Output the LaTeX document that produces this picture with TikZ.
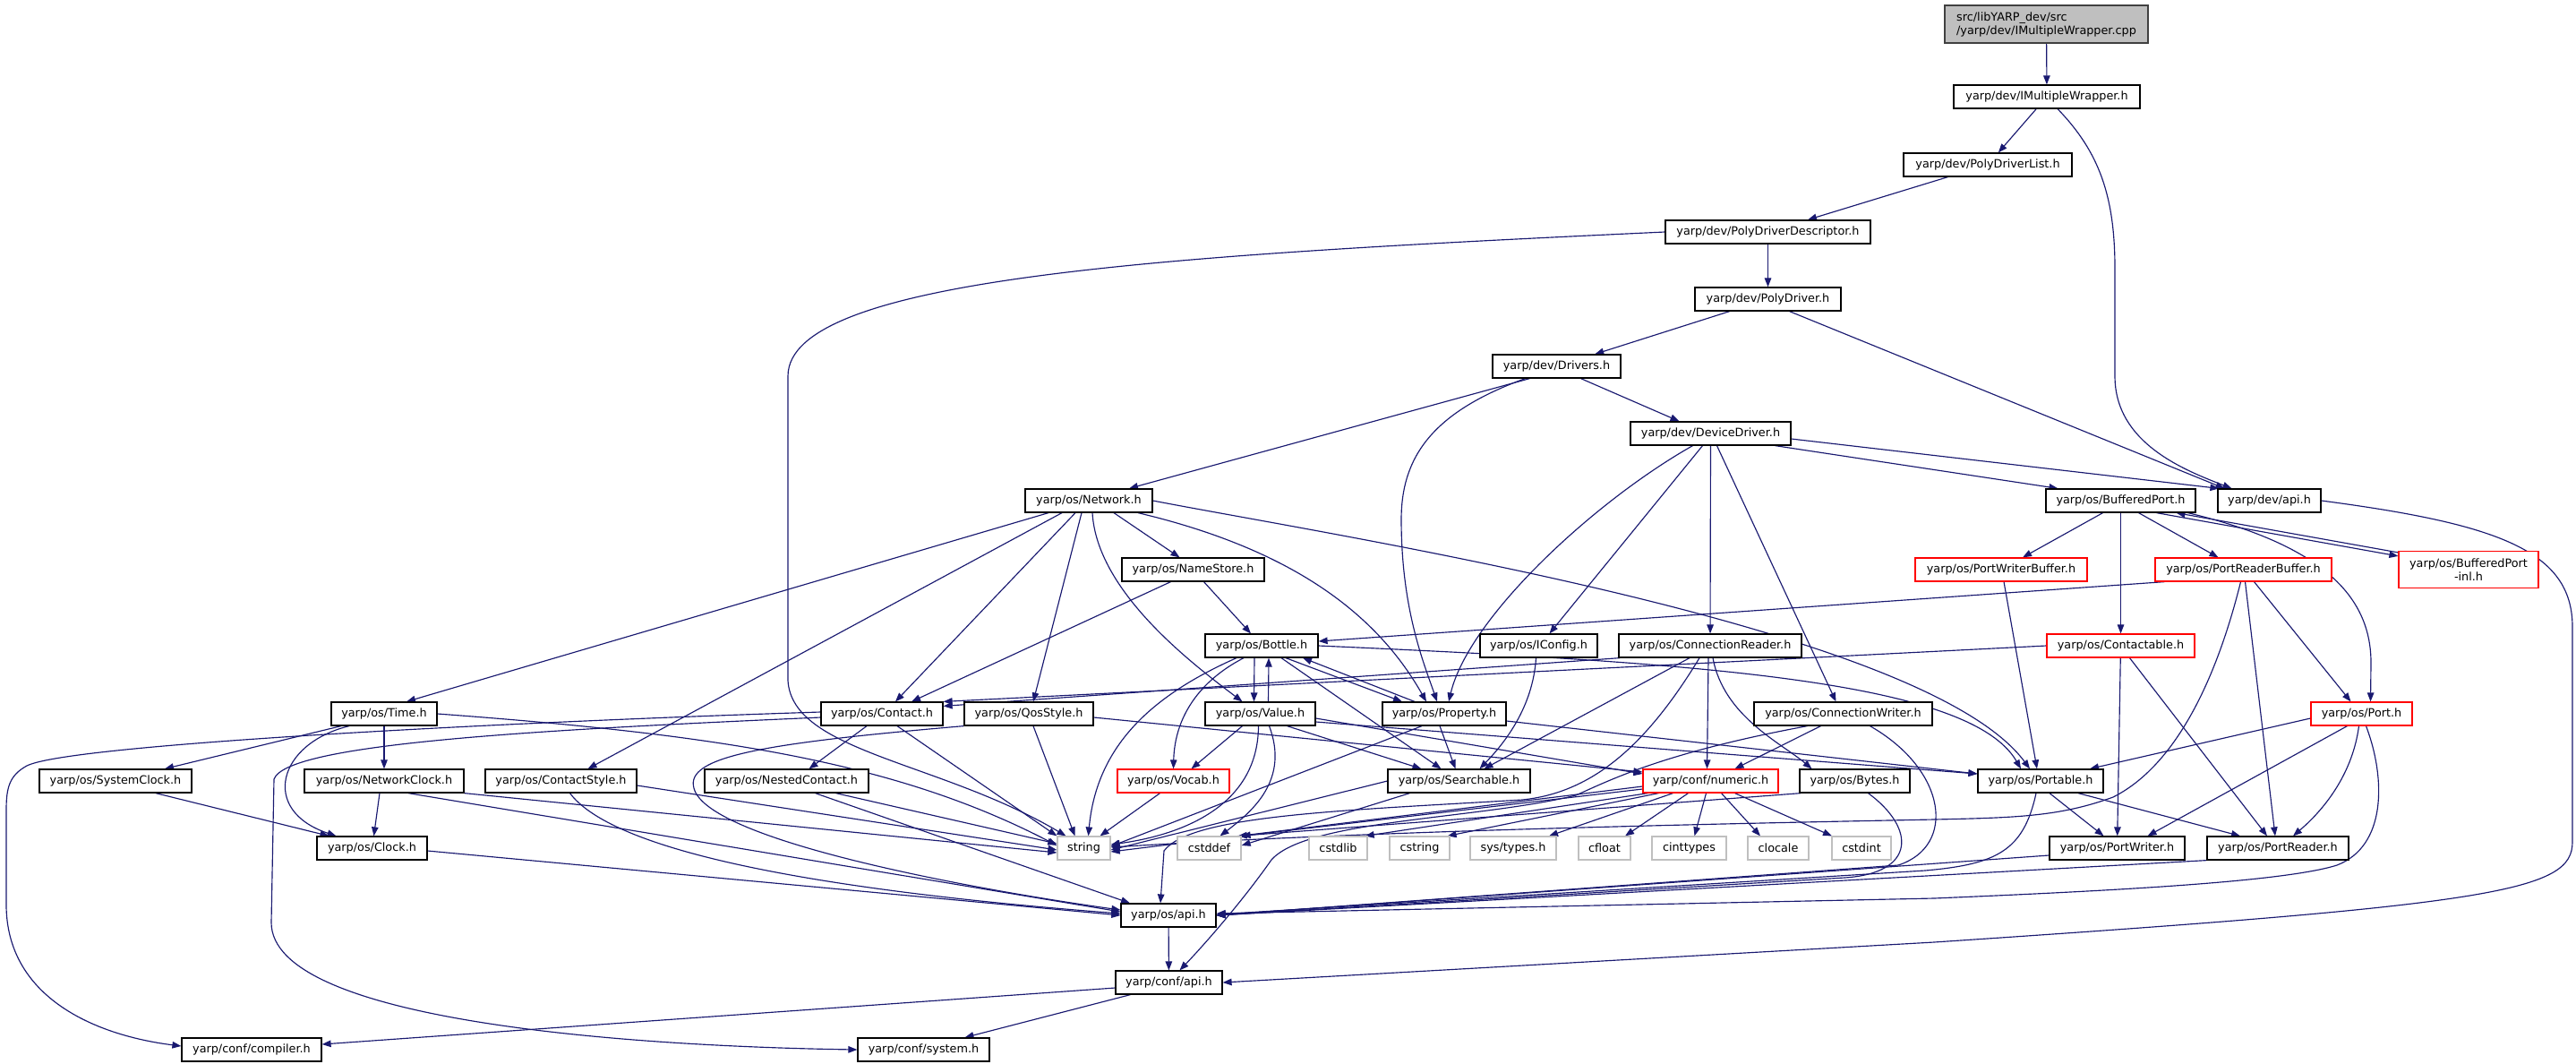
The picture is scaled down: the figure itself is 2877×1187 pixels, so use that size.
\documentclass[tikz,border=0pt]{standalone}
\usepackage{fontspec}
\newfontfamily\dvs{DejaVu Sans}
\usetikzlibrary{arrows.meta,backgrounds}
\definecolor{edgec}{HTML}{191970}
\definecolor{sysc}{HTML}{BFBFBF}
\definecolor{rootc}{HTML}{BFBFBF}
\definecolor{bordc}{HTML}{404040}
\begin{document}
\begin{tikzpicture}[x=1pt,y=-1pt,
  hbox/.style={draw=black, line width=1.2pt, fill=white, inner sep=0pt, minimum height=26pt, font=\dvs\fontsize{12.8}{15}\selectfont},
  rbox/.style={hbox, draw=red},
  sbox/.style={hbox, draw=sysc},
  edg/.style={draw=edgec, line width=1.15pt, -{Triangle[length=10pt,width=7.5pt]}}]
\path[use as bounding box] (0,0) rectangle (2877,1187);
% nodes
\node[hbox, minimum width=227pt, minimum height=42pt, fill=rootc, draw=bordc, align=left] (root) at (2285.5,27) {src/libYARP\_dev/src\\/yarp/dev/IMultipleWrapper.cpp};
\node[hbox,minimum width=208pt] (imw) at (2286,108) {yarp/dev/IMultipleWrapper.h};
\node[hbox,minimum width=188pt] (pdl) at (2220,184) {yarp/dev/PolyDriverList.h};
\node[hbox,minimum width=229pt] (pdd) at (1974.5,259) {yarp/dev/PolyDriverDescriptor.h};
\node[hbox,minimum width=163pt] (pd) at (1974.5,334) {yarp/dev/PolyDriver.h};
\node[hbox,minimum width=143pt] (drv) at (1738.5,409) {yarp/dev/Drivers.h};
\node[hbox,minimum width=179pt] (dd) at (1910.5,484) {yarp/dev/DeviceDriver.h};
\node[hbox,minimum width=142pt] (net) at (1216,559) {yarp/os/Network.h};
\node[hbox,minimum width=167pt] (bp) at (2368.5,559) {yarp/os/BufferedPort.h};
\node[hbox,minimum width=115pt] (devapi) at (2534.5,559) {yarp/dev/api.h};
\node[hbox,minimum width=159pt] (ns) at (1332.5,636) {yarp/os/NameStore.h};
\node[rbox,minimum width=192pt] (pwb) at (2235,636) {yarp/os/PortWriterBuffer.h};
\node[rbox,minimum width=197pt] (prb) at (2505.5,636) {yarp/os/PortReaderBuffer.h};
\node[rbox,minimum width=156pt,minimum height=41pt,align=center] (inl) at (2757,636) {yarp/os/BufferedPort\\-inl.h};
\node[hbox,minimum width=126pt] (bottle) at (1409,721) {yarp/os/Bottle.h};
\node[hbox,minimum width=131pt] (icfg) at (1718.5,721) {yarp/os/IConfig.h};
\node[hbox,minimum width=204pt] (cr) at (1910,721) {yarp/os/ConnectionReader.h};
\node[rbox,minimum width=165pt] (ctb) at (2368.5,721) {yarp/os/Contactable.h};
\node[hbox,minimum width=118pt] (time) at (429,797) {yarp/os/Time.h};
\node[hbox,minimum width=136pt] (contact) at (985,797) {yarp/os/Contact.h};
\node[hbox,minimum width=144pt] (qos) at (1149,797) {yarp/os/QosStyle.h};
\node[hbox,minimum width=123pt] (value) at (1407.5,797) {yarp/os/Value.h};
\node[hbox,minimum width=138pt] (prop) at (1613,797) {yarp/os/Property.h};
\node[hbox,minimum width=199pt] (cw) at (2058.5,797) {yarp/os/ConnectionWriter.h};
\node[rbox,minimum width=113pt] (port) at (2637.5,797) {yarp/os/Port.h};
\node[hbox,minimum width=170pt] (sysclk) at (129,872) {yarp/os/SystemClock.h};
\node[hbox,minimum width=178pt] (netclk) at (429,872) {yarp/os/NetworkClock.h};
\node[hbox,minimum width=169pt] (cstyle) at (626.5,872) {yarp/os/ContactStyle.h};
\node[hbox,minimum width=183pt] (nested) at (878.5,872) {yarp/os/NestedContact.h};
\node[rbox,minimum width=125pt] (vocab) at (1310.5,872) {yarp/os/Vocab.h};
\node[hbox,minimum width=159pt] (search) at (1629.5,872) {yarp/os/Searchable.h};
\node[rbox,minimum width=151pt] (numeric) at (1910.5,872) {yarp/conf/numeric.h};
\node[hbox,minimum width=123pt] (bytes) at (2071.5,872) {yarp/os/Bytes.h};
\node[hbox,minimum width=140pt] (portable) at (2279,872) {yarp/os/Portable.h};
\node[hbox,minimum width=123pt] (clock) at (415.5,947) {yarp/os/Clock.h};
\node[sbox,minimum width=59pt] (string) at (1210.5,947) {string};
\node[sbox,minimum width=71pt] (cstddef) at (1350.5,947) {cstddef};
\node[sbox,minimum width=65pt] (cstdlib) at (1494.5,947) {cstdlib};
\node[sbox,minimum width=67pt] (cstring) at (1585.5,947) {cstring};
\node[sbox,minimum width=96pt] (systypes) at (1690,947) {sys/types.h};
\node[sbox,minimum width=58pt] (cfloat) at (1792,947) {cfloat};
\node[sbox,minimum width=83pt] (cinttypes) at (1886.5,947) {cinttypes};
\node[sbox,minimum width=68pt] (clocale) at (1986,947) {clocale};
\node[sbox,minimum width=66pt] (cstdint) at (2079,947) {cstdint};
\node[hbox,minimum width=151pt] (pw) at (2364.5,947) {yarp/os/PortWriter.h};
\node[hbox,minimum width=158pt] (pr) at (2544,947) {yarp/os/PortReader.h};
\node[hbox,minimum width=106pt] (osapi) at (1305,1022) {yarp/os/api.h};
\node[hbox,minimum width=119pt] (confapi) at (1305.5,1097) {yarp/conf/api.h};
\node[hbox,minimum width=156pt] (compiler) at (281,1172) {yarp/conf/compiler.h};
\node[hbox,minimum width=147pt] (system) at (1031.5,1172) {yarp/conf/system.h};
% edges
\begin{pgfonlayer}{background}
\draw[edg] (root) -- (imw);
\draw[edg] (imw) -- (pdl);
\draw[edg] ([xshift=12pt]imw.south) .. controls (2345,170) and (2362,220) .. (2362,300) -- (2362,420) .. controls (2362,495) and (2440,525) .. ([xshift=-42pt]devapi.north);
\draw[edg] (pdl) -- (pdd);
\draw[edg] (pdd) -- (pd);
\draw[edg] (pdd.west) .. controls (1300,285) and (880,310) .. (880,420) -- (880,760) .. controls (885,840) and (1050,850) .. ([xshift=-20pt]string.north);
\draw[edg] (pd) -- (drv);
\draw[edg] ([xshift=24pt]pd.south) -- ([xshift=-50pt]devapi.north);
\draw[edg] ([xshift=-30pt]drv.south) -- ([xshift=45pt]net.north);
\draw[edg] ([xshift=-35pt]drv.south) .. controls (1600,460) and (1565,510) .. (1565,580) .. controls (1565,680) and (1590,740) .. ([xshift=-8pt]prop.north);
\draw[edg] ([xshift=27pt]drv.south) -- ([xshift=-35pt]dd.north);
\draw[edg] ([yshift=-6pt]dd.east) -- ([xshift=2pt]devapi.north west);
\draw[edg] ([xshift=72pt]dd.south) -- ([xshift=-70pt]bp.north);
\draw[edg] ([xshift=-20pt]dd.south) .. controls (1780,560) and (1640,690) .. ([xshift=5pt]prop.north);
\draw[edg] ([xshift=-9pt]dd.south) -- ([xshift=12pt]icfg.north);
\draw[edg] (dd) -- (cr);
\draw[edg] ([xshift=7pt]dd.south) -- ([xshift=-8pt]cw.north);
% BufferedPort
\draw[edg] ([xshift=-20pt]bp.south) -- ([xshift=24pt]pwb.north);
\draw[edg] (bp) -- (ctb);
\draw[edg] ([xshift=20pt]bp.south) -- ([xshift=-28pt]prb.north);
\draw[edg] ([xshift=40pt]bp.south) -- ([yshift=-6pt]inl.north west);
\draw[edg] ([yshift=-2pt]inl.north west) -- ([xshift=62pt]bp.south);
\draw[edg] ([xshift=75pt]bp.south) .. controls (2600,610) and (2648,670) .. (2648,740) -- ([xshift=10pt]port.north);
\draw[edg] (devapi.east) .. controls (2790,585) and (2873,615) .. (2873,700) -- (2873,940) .. controls (2873,995) and (2790,1010) .. (2160,1052) -- (confapi.east);
% NameStore, buffers
\draw[edg] ([xshift=-25pt]ns.south) -- ([xshift=33pt]contact.north);
\draw[edg] ([xshift=12pt]ns.south) -- ([xshift=-12pt]bottle.north);
\draw[edg] ([xshift=3pt]pwb.south) -- ([xshift=-4pt]portable.north);
\draw[edg] ([xshift=-88pt]prb.south) -- ([yshift=5pt]bottle.east);
\draw[edg] ([xshift=-3pt]prb.south) .. controls (2470,780) and (2420,860) .. (2360,890) .. controls (2300,912) and (2250,913) .. (2160,915) .. controls (1800,922) and (1500,930) .. ([yshift=1pt]string.east);
\draw[edg] ([xshift=2pt]prb.south) -- ([xshift=-3pt]pr.north);
\draw[edg] ([xshift=12pt]prb.south) -- ([xshift=-12pt]port.north);
% Contactable
\draw[edg] (ctb.west) -- (contact.north east);
\draw[edg] ([xshift=2pt]cr.south west) -- ([yshift=-5pt]contact.north east);
\draw[edg] (ctb) -- (pw);
\draw[edg] ([xshift=10pt]ctb.south) -- ([xshift=-12pt]pr.north);
% Port
\draw[edg] ([yshift=-5pt]port.west) -- ([xshift=55pt]portable.north);
\draw[edg] ([xshift=-16pt]port.south) -- ([xshift=34pt]pw.north);
\draw[edg] ([xshift=-3pt]port.south) .. controls (2628,860) and (2600,900) .. ([xshift=17pt]pr.north);
\draw[edg] ([xshift=5pt]port.south) .. controls (2665,870) and (2665,945) .. (2610,966) .. controls (2550,985) and (2350,995) .. (2160,1003) -- ([yshift=2pt]osapi.east);
% Portable, writer, reader
\draw[edg] ([xshift=10pt]portable.south) -- ([xshift=-15pt]pw.north);
\draw[edg] ([xshift=42pt]portable.south) -- ([xshift=-42pt]pr.north);
\draw[edg] ([xshift=-5pt]portable.south) .. controls (2260,950) and (2230,965) .. (2150,972) -- ([yshift=1pt]osapi.east);
\draw[edg] ([yshift=-8pt]pw.west) -- (osapi.east);
\draw[edg] (pr.south west) -- (osapi.east);
% Bytes
\draw[edg] ([xshift=15pt]bytes.south) .. controls (2140,925) and (2140,975) .. (2060,980) -- (osapi.east);
\draw[edg] ([xshift=2pt]bytes.south west) -- ([xshift=-4pt]cstddef.north east);
% ConnectionReader, IConfig
\draw[edg] ([xshift=-23pt]cr.south) -- ([xshift=28pt]search.north);
\draw[edg] ([xshift=3pt]cr.south) .. controls (1925,800) and (1990,830) .. ([xshift=-48pt]bytes.north);
\draw[edg] ([xshift=-2pt]cr.south) -- ([xshift=-4pt]numeric.north);
\draw[edg] ([xshift=-12pt]cr.south) .. controls (1840,830) and (1780,885) .. (1700,893) .. controls (1500,905) and (1330,910) .. (1300,950) -- ([xshift=-9pt]osapi.north);
\draw[edg] ([xshift=-3pt]icfg.south) .. controls (1712,790) and (1680,830) .. ([xshift=23pt]search.north);
% ConnectionWriter
\draw[edg] ([xshift=-25pt]cw.south) -- ([xshift=27pt]numeric.north);
\draw[edg] ([xshift=30pt]cw.south) .. controls (2175,860) and (2185,945) .. (2120,966) -- (osapi.east);
\draw[edg] ([xshift=-40pt]cw.south) .. controls (1860,840) and (1800,870) .. (1760,888) .. controls (1650,915) and (1460,915) .. (1420,960) .. controls (1385,1010) and (1340,1060) .. ([xshift=12pt]confapi.north);
% Bottle
\draw[edg] ([xshift=-8pt]bottle.south) -- ([xshift=-7pt]value.north);
\draw[edg] ([xshift=9pt]value.north) -- ([xshift=8pt]bottle.south);
\draw[edg] ([xshift=-20pt]bottle.south) .. controls (1340,760) and (1312,800) .. (vocab.north);
\draw[edg] ([xshift=-28pt]bottle.south) .. controls (1290,775) and (1225,830) .. ([xshift=5pt]string.north);
\draw[edg] ([xshift=27pt]bottle.south) -- ([xshift=-47pt]prop.north);
\draw[edg] ([xshift=-33pt]prop.north) -- ([xshift=46pt]bottle.south);
\draw[edg] ([xshift=22pt]bottle.south) -- ([xshift=-20pt]search.north);
\draw[edg] (bottle.east) .. controls (1900,740) and (2200,760) .. ([xshift=-22pt]portable.north);
% Value
\draw[edg] ([xshift=-20pt]value.south) -- ([xshift=20pt]vocab.north);
\draw[edg] ([xshift=-2pt]value.south) .. controls (1405,910) and (1300,935) .. ([yshift=4pt]string.east);
\draw[edg] ([xshift=10pt]value.south) .. controls (1440,870) and (1400,905) .. ([xshift=12pt]cstddef.north);
\draw[edg] ([xshift=30pt]value.south) -- ([xshift=-42pt]search.north);
\draw[edg] ([yshift=-5pt]value.east) -- ([yshift=8pt]numeric.west);
\draw[edg] ([yshift=-9pt]value.east) -- ([yshift=8pt]portable.west);
% Property
\draw[edg] ([xshift=-5pt]prop.south) -- ([xshift=-4pt]search.north);
\draw[edg] ([xshift=-25pt]prop.south) -- ([yshift=2pt]string.east);
\draw[edg] ([yshift=-8pt]prop.east) -- ([yshift=8pt]portable.west);
% Searchable
\draw[edg] (search.west) -- ([yshift=-2pt]string.east);
\draw[edg] ([xshift=-55pt]search.south) -- ([yshift=3pt]cstddef.east);
% numeric
\draw[edg] ([yshift=-6pt]numeric.west) -- ([yshift=-4pt]string.east);
\draw[edg] ([yshift=-9pt]numeric.west) -- (cstddef.north east);
\draw[edg] ([xshift=-70pt]numeric.south) -- ([xshift=-3pt]cstdlib.north east);
\draw[edg] ([xshift=-58pt]numeric.south) -- ([xshift=-3pt]cstring.north east);
\draw[edg] ([xshift=-42pt]numeric.south) -- ([xshift=40pt]systypes.north);
\draw[edg] ([xshift=-25pt]numeric.south) -- ([xshift=23pt]cfloat.north);
\draw[edg] ([xshift=-5pt]numeric.south) -- ([xshift=6pt]cinttypes.north);
\draw[edg] ([xshift=12pt]numeric.south) -- ([xshift=-20pt]clocale.north);
\draw[edg] ([xshift=27pt]numeric.south) -- ([xshift=-33pt]cstdint.north);
% QosStyle
\draw[edg] ([xshift=5pt]qos.south) -- ([xshift=-10pt]string.north);
\draw[edg] ([yshift=-4pt]qos.east) -- ([yshift=10pt]numeric.west);
\draw[edg] (qos.south west) .. controls (850,830) and (765,845) .. (775,880) .. controls (790,940) and (1100,995) .. ([yshift=6pt]osapi.west);
% Contact
\draw[edg] ([xshift=-17pt]contact.south) -- ([xshift=25pt]nested.north);
\draw[edg] ([xshift=17pt]contact.south) -- (string.north west);
\draw[edg] ([yshift=2pt]contact.west) .. controls (600,805) and (80,830) .. (30,855) .. controls (10,866) and (7,880) .. (7,905) -- (7,1010) .. controls (7,1110) and (100,1155) .. ([yshift=4pt]compiler.west);
\draw[edg] ([yshift=-4pt]contact.west) .. controls (600,815) and (320,830) .. (306,870) -- (303,1030) .. controls (303,1140) and (700,1168) .. (system.west);
% NestedContact
\draw[edg] ([xshift=55pt]nested.south) -- ([yshift=5pt]string.west);
\draw[edg] ([xshift=32pt]nested.south) -- ([xshift=-43pt]osapi.north);
% Time and clocks
\draw[edg] ([xshift=-48pt]time.south) -- ([xshift=55pt]sysclk.north);
\draw[edg] (time) -- (netclk);
\draw[edg] ([xshift=-39pt]time.south) .. controls (310,830) and (290,905) .. ([xshift=-40pt]clock.north);
\draw[edg] (time.east) .. controls (800,820) and (1000,850) .. ([yshift=3pt]string.west);
\draw[edg] ([xshift=-5pt]netclk.south) -- ([xshift=2pt]clock.north);
\draw[edg] (netclk.south east) -- ([yshift=-5pt]string.west);
\draw[edg] ([xshift=27pt]netclk.south) -- ([yshift=4pt]osapi.west);
\draw[edg] ([yshift=-5pt]cstyle.east) -- ([yshift=-2pt]string.west);
\draw[edg] ([xshift=10pt]cstyle.south) .. controls (670,930) and (800,985) .. ([yshift=2pt]osapi.west);
\draw[edg] ([xshift=45pt]sysclk.south) -- ([xshift=-48pt]clock.north);
\draw[edg] ([yshift=-3pt]clock.east) -- (osapi.west);
\draw[edg] ([xshift=-15pt]vocab.south) -- ([xshift=18pt]string.north);
% Network
\draw[edg] ([xshift=-45pt]net.south) -- ([xshift=25pt]time.north);
\draw[edg] ([xshift=-30pt]net.south) -- ([xshift=30pt]cstyle.north);
\draw[edg] ([xshift=-15pt]net.south) -- ([xshift=15pt]contact.north);
\draw[edg] ([xshift=-8pt]net.south) -- ([xshift=5pt]qos.north);
\draw[edg] ([xshift=4pt]net.south) .. controls (1225,660) and (1330,740) .. ([xshift=-20pt]value.north);
\draw[edg] ([xshift=28pt]net.south) -- ([xshift=-15pt]ns.north);
\draw[edg] ([xshift=55pt]net.south) .. controls (1450,615) and (1540,690) .. ([xshift=-20pt]prop.north);
\draw[edg] (net.east) .. controls (1500,600) and (2150,700) .. ([xshift=-12pt]portable.north);
% api
\draw[edg] (osapi) -- (confapi);
\draw[edg] ([yshift=-6pt]confapi.west) -- ([yshift=6pt]compiler.east);
\draw[edg] ([xshift=-43pt]confapi.south) -- ([xshift=46pt]system.north);
\end{pgfonlayer}
\end{tikzpicture}
\end{document}
